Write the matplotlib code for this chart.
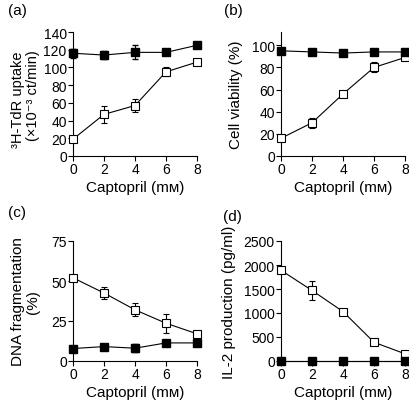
import matplotlib
matplotlib.use("Agg")
import matplotlib.pyplot as plt

plt.rcParams['font.family'] = ['Liberation Sans', 'DejaVu Sans']

# captopril concentrations (mM)
dose = [0, 2, 4, 6, 8]

# (a) 3H-TdR uptake
a_filled = [116, 114, 117, 117, 125]
a_filled_err = [5, 5, 8, 2, 3.5]
a_open = [19, 47, 57, 95, 106]
a_open_err = [2, 10, 7, 5, 2]

# (b) cell viability
b_filled = [95, 94, 93, 94, 94]
b_filled_err = [1, 1, 1, 1, 1]
b_open = [16, 30, 56, 80, 89]
b_open_err = [2, 4.5, 3, 4.5, 2]

# (c) DNA fragmentation
c_open = [52, 42.5, 32, 23.6, 17]
c_open_err = [2, 3.6, 4, 6, 1.5]
c_filled = [7.8, 9, 8, 11.3, 11.3]
c_filled_err = [1, 1, 2.5, 1, 1.5]

# (d) IL-2 production
d_open = [1890, 1470, 1030, 390, 150]
d_open_err = [60, 190, 40, 50, 20]
d_filled = [0, 0, 0, 0, 0]
d_filled_err = [0, 0, 0, 0, 0]

xlabel = 'Captopril (m\u1d0d)'

W, H = 409, 402
fig = plt.figure(figsize=(W / 100, H / 100), dpi=100)

# tag, axes box (px), data, ylim, yticks, ylabel lines (text, x centre px, y centre px, size), tag pos (px)
panels = [
    ('(a)', [73, 33, 197, 157], a_filled, a_filled_err, a_open, a_open_err,
     (0, 140), [0, 20, 40, 60, 80, 100, 120, 140],
     [('\u00b3H-TdR uptake', 18, 100, 10.5), ('(\u00d710\u207b\u00b3 ct/min)', 33, 96, 10.5)], (8, 11)),
    ('(b)', [281, 33, 405, 157], b_filled, b_filled_err, b_open, b_open_err,
     (0, 112), [0, 20, 40, 60, 80, 100],
     [('Cell viability (%)', 236, 95, 11)], (224, 11)),
    ('(c)', [73, 242, 197, 362], c_filled, c_filled_err, c_open, c_open_err,
     (0, 75), [0, 25, 50, 75],
     [('DNA fragmentation', 18, 302, 11), ('(%)', 33, 302, 11)], (8, 213)),
    ('(d)', [281, 242, 405, 362], d_filled, d_filled_err, d_open, d_open_err,
     (0, 2500), [0, 500, 1000, 1500, 2000, 2500],
     [('IL-2 production (pg/ml)', 229, 302, 11)], (223, 217)),
]

for tag, (x0, y0, x1, y1), yf, ef, yo, eo, ylim, yticks, ylab, tpos in panels:
    ax = fig.add_axes([x0 / W, 1 - y1 / H, (x1 - x0) / W, (y1 - y0) / H])
    ax.errorbar(dose, yo, yerr=eo, color='black', lw=0.8, marker='s', ms=5.5,
                mfc='white', mec='black', mew=0.8, capsize=2.5, elinewidth=0.8,
                clip_on=False, zorder=3)
    ax.errorbar(dose, yf, yerr=ef, color='black', lw=0.8, marker='s', ms=5.5,
                mfc='black', mec='black', capsize=2.5, elinewidth=0.8,
                clip_on=False, zorder=4)
    ax.set_xlim(0, 8)
    ax.set_ylim(*ylim)
    ax.set_xticks([0, 2, 4, 6, 8])
    ax.set_yticks(yticks)
    ax.spines['top'].set_visible(False)
    ax.spines['right'].set_visible(False)
    ax.tick_params(direction='out', length=3.5, width=0.8, labelsize=10, pad=1)
    ax.set_xlabel(xlabel, fontsize=11, labelpad=3)
    for text, xc, yc, fs in ylab:
        fig.text(xc / W, 1 - yc / H, text, rotation=90, fontsize=fs,
                 ha='center', va='center')
    fig.text(tpos[0] / W, 1 - tpos[1] / H, tag, fontsize=11,
             ha='left', va='center')

fig.savefig('out.png', dpi=100)
